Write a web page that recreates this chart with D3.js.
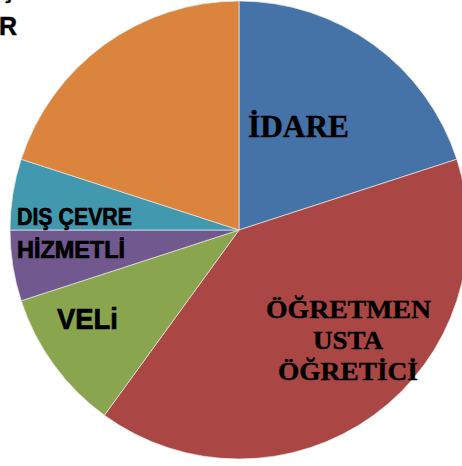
<!DOCTYPE html>
<html>
<head>
<meta charset="utf-8">
<script src="https://cdn.jsdelivr.net/npm/d3@7"></script>
<style>
  body { margin: 0; background: #fff; }
  svg { display: block; }
</style>
</head>
<body>
<div id="chart"></div>
<script>
// slices clockwise from 12 o'clock
const categories = ["İDARE", "ÖĞRETMEN USTA ÖĞRETİCİ", "VELi", "HİZMETLİ", "DIŞ ÇEVRE", "ÖĞRENCİLER"];
const values = [20, 40, 10, 5, 5, 20];
const colors = ["#4572A7", "#AA4643", "#89A54E", "#71588F", "#4198AF", "#DB843D"];

const width = 462, height = 466;
const cx = 239, cy = 230, radius = 229;

const svg = d3.select("#chart").append("svg")
  .attr("width", width)
  .attr("height", height);

const pie = d3.pie().sort(null).value(d => d.value);
const arc = d3.arc().innerRadius(0).outerRadius(radius);

const data = categories.map((c, i) => ({ name: c, value: values[i], color: colors[i] }));

const g = svg.append("g").attr("transform", `translate(${cx},${cy})`);

g.selectAll("path")
  .data(pie(data))
  .join("path")
  .attr("d", arc)
  .attr("fill", d => d.data.color)
  .attr("stroke", "#e8e8e8")
  .attr("stroke-width", 0.7);

// labels (absolute positions inside svg)
const serif = "'Liberation Serif', 'Times New Roman', serif";
const sans = "'Liberation Sans', Arial, sans-serif";

function label(txt, x, y, size, family, len, heavy) {
  const t = svg.append("text")
    .attr("x", x)
    .attr("y", y)
    .attr("font-family", family)
    .attr("font-weight", "bold")
    .attr("font-size", size)
    .attr("fill", "#000")
    .text(txt);
  if (len) t.attr("textLength", len).attr("lengthAdjust", "spacingAndGlyphs");
  if (heavy) t.attr("stroke", "#000").attr("stroke-width", heavy);
  return t;
}

label("İDARE", 248, 137, 31, serif, 101, 0.4);
label("ÖĞRETMEN", 266, 318, 26, serif, 165, 0.4);
label("USTA", 313, 349, 26, serif, 70, 0.4);
label("ÖĞRETİCİ", 278, 380, 26, serif, 140, 0.4);

label("DIŞ ÇEVRE", 17, 225, 24, sans, 115, 0.7);
label("HİZMETLİ", 17, 258, 23, sans, 108, 0.7);
label("VELi", 57, 329, 30, sans, 61, 0.7);

// orange slice label, cut off at the top-left corner
label("Ç", -1, -2, 24, sans, null, 0.5);
label("R", -1, 35, 25, sans, null, 0.5);
</script>
</body>
</html>
